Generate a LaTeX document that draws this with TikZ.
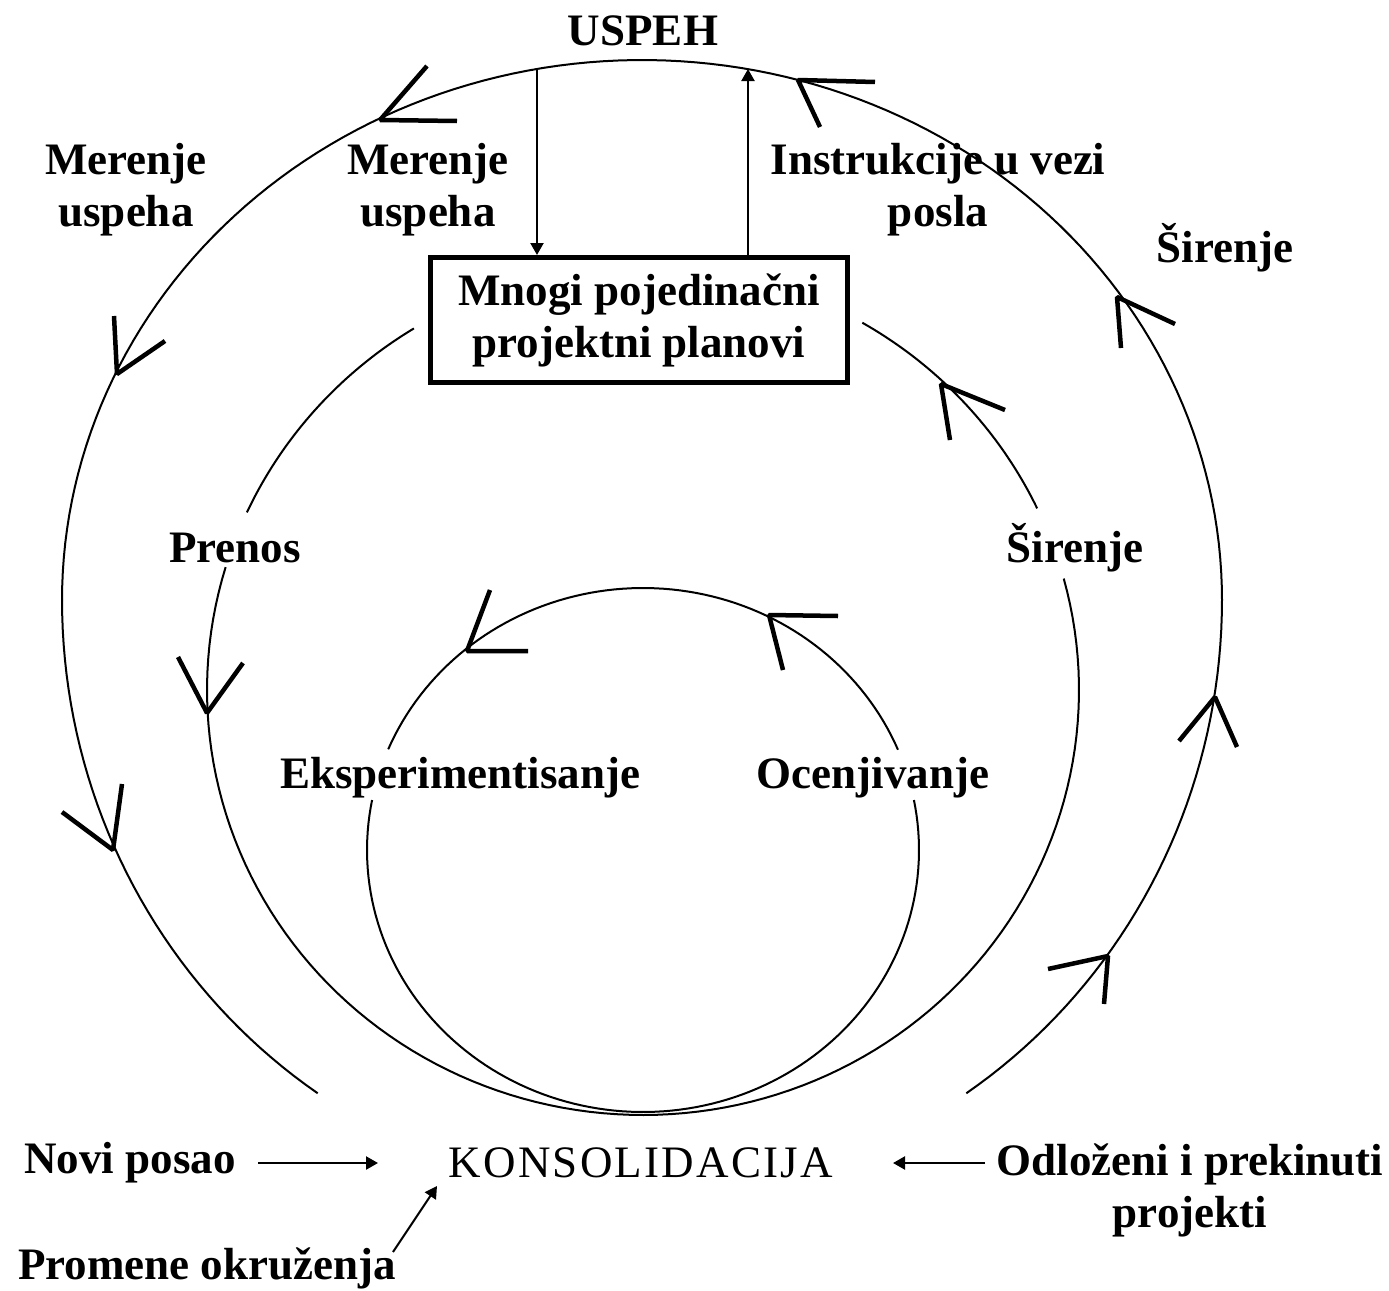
\documentclass[tikz,border=0pt]{standalone}
\usepackage{fontspec}
\setmainfont{Liberation Serif}
\usetikzlibrary{arrows.meta}
\begin{document}
\begin{tikzpicture}[x=1pt,y=-1pt,
  loopline/.style={line width=2pt},
  ahead/.style={line width=4.5pt, line join=bevel},
  lbl/.style={font=\fontsize{45}{52}\selectfont\bfseries, align=center, inner sep=0pt},
  plain/.style={font=\fontsize{45}{52}\selectfont\addfontfeatures{LetterSpace=5}, inner sep=0pt},
  arr/.style={line width=2.2pt, -{Triangle[length=12pt,width=13pt]}},
]
\useasboundingbox (0,0) rectangle (1389,1290);

% ---------- outer cycle (flatter on top, fuller below) ----------
\def\ocx{642}\def\ocy{600}\def\orx{580}
\draw[loopline] plot[domain=0:180, samples=120] ({\ocx+\orx*cos(\x)}, {\ocy-540*sin(\x)});
\draw[loopline] plot[domain=180:236, samples=40] ({\ocx+\orx*cos(\x)}, {\ocy-595*sin(\x)});
\draw[loopline] plot[domain=-56:0, samples=40] ({\ocx+\orx*cos(\x)}, {\ocy-595*sin(\x)});

% ---------- middle cycle ----------
\def\mcx{643}\def\mcy{690}\def\mrx{436}\def\mry{425}
\draw[loopline] plot[domain=121.7:155.3, samples=40] ({\mcx+\mrx*cos(\x)}, {\mcy-\mry*sin(\x)});
\draw[loopline] plot[domain=163.2:375.2, samples=120] ({\mcx+\mrx*cos(\x)}, {\mcy-\mry*sin(\x)});
\draw[loopline] plot[domain=25.3:59.8, samples=40] ({\mcx+\mrx*cos(\x)}, {\mcy-\mry*sin(\x)});

% ---------- inner cycle ----------
\def\icx{643}\def\icy{850}\def\irx{276}\def\iry{262}
\draw[loopline] plot[domain=22.5:157.4, samples=80] ({\icx+\irx*cos(\x)}, {\icy-\iry*sin(\x)});
\draw[loopline] plot[domain=169:371, samples=120] ({\icx+\irx*cos(\x)}, {\icy-\iry*sin(\x)});

% ---------- open arrowheads on the cycles ----------
\draw[ahead] (427,66) -- (380,120) -- (457,121);
\draw[ahead] (875,82) -- (798,80) -- (820,127);
\draw[ahead] (114,316) -- (117,374) -- (165,341);
\draw[ahead] (122,784) -- (113,850) -- (62,812);
\draw[ahead] (1121,348) -- (1117,297) -- (1175,324);
\draw[ahead] (1179,741) -- (1215,697) -- (1237,747);
\draw[ahead] (1048,969) -- (1108,956) -- (1104,1004);
\draw[ahead] (178,657) -- (207,713) -- (243,663);
\draw[ahead] (1005,410) -- (941,384) -- (950,440);
\draw[ahead] (490,590) -- (467,651) -- (528,651);
\draw[ahead] (838,616) -- (769,615) -- (783,670);

% ---------- central box and its links to the top ----------
\node[lbl, draw, line width=5pt, minimum width=417pt, minimum height=125pt]
  (plans) at (639,320) {Mnogi pojedinačni\\projektni planovi};
\coordinate (measure) at (537,69);
\coordinate (success) at (748,69);
\draw[arr] (measure) -- (measure |- plans.north);
\draw[arr] (success |- plans.north) -- (success);

% ---------- labels ----------
\node[lbl] (uspeh) at (643,31) {USPEH};
\node[lbl] (mer1) at (126,190) {Merenje\\uspeha};
\node[lbl] (mer2) at (428,190) {Merenje\\uspeha};
\node[lbl] (instr) at (938,190) {Instrukcije u vezi\\posla};
\node[lbl] (sir1) at (1225,248) {Širenje};
\node[lbl] (prenos) at (235,548) {Prenos};
\node[lbl] (sir2) at (1075,548) {Širenje};
\node[lbl] (eksp) at (460,778) {Eksperimentisanje};
\node[lbl] (ocen) at (873,778) {Ocenjivanje};
\node[plain] (kons) at (641,1163) {KONSOLIDACIJA};
\node[lbl] (novi) at (130,1163) {Novi posao};
\node[lbl] (odl) at (1190,1190) {Odloženi i prekinuti\\projekti};
\node[lbl] (prom) at (207,1268) {Promene okruženja};

% ---------- inputs to consolidation ----------
\coordinate (noviA) at (258,1163);
\coordinate (noviB) at (378,1163);
\coordinate (odlA) at (985,1163);
\coordinate (odlB) at (893,1163);
\coordinate (promA) at (393,1252);
\coordinate (promB) at (437,1186);
\draw[arr] (noviA) -- (noviB);
\draw[arr] (odlA) -- (odlB);
\draw[arr, line width=2pt] (promA) -- (promB);
\end{tikzpicture}
\end{document}
